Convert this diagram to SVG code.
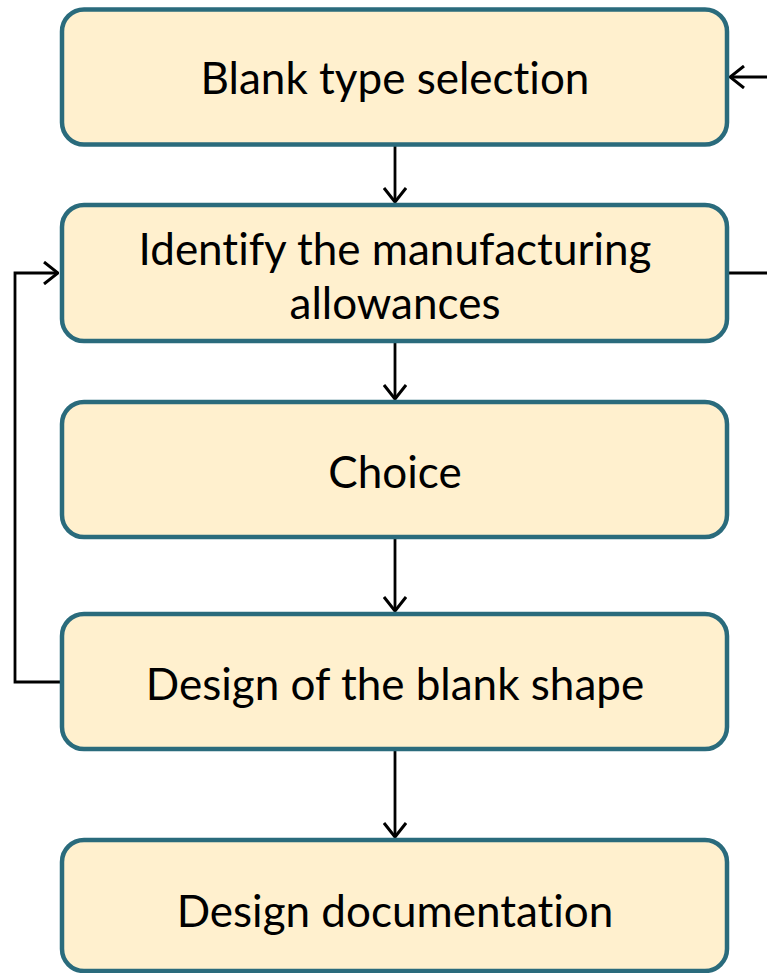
<svg xmlns="http://www.w3.org/2000/svg" width="767" height="973" viewBox="0 0 767 973">
<defs>
<style>
.box{fill:#FFF0CE;stroke:#2A6B7C;stroke-width:4.5}
.lbl{font-family:Lato,"Open Sans",sans-serif;font-size:44px;fill:#000;text-anchor:middle;font-variant-ligatures:none}
.con{fill:none;stroke:#000;stroke-width:2.8}
</style>
<marker id="ah" viewBox="0 0 16 24" refX="15" refY="12" markerWidth="16" markerHeight="24" markerUnits="userSpaceOnUse" orient="auto">
<path d="M1,1 L15,12 L1,23" fill="none" stroke="#000" stroke-width="3"/>
</marker>
</defs>
<g id="connectors">
<line class="con" x1="395" y1="146" x2="395" y2="202" marker-end="url(#ah)"/>
<line class="con" x1="395" y1="343" x2="395" y2="399" marker-end="url(#ah)"/>
<line class="con" x1="395" y1="539" x2="395" y2="611" marker-end="url(#ah)"/>
<line class="con" x1="395" y1="751" x2="395" y2="837" marker-end="url(#ah)"/>
<polyline class="con" points="60,682 15,682 15,273 58,273" marker-end="url(#ah)"/>
<line class="con" x1="767" y1="77" x2="730" y2="77" marker-end="url(#ah)"/>
<line class="con" x1="729" y1="273" x2="767" y2="273"/>
</g>
<g id="n1"><rect class="box" x="62" y="9.5" width="665" height="135" rx="22"/><text class="lbl" x="395" y="94">Blank type selection</text></g>
<g id="n2"><rect class="box" x="62" y="205" width="665" height="136" rx="22"/><text class="lbl" x="395" y="265">Identify the manufacturing</text><text class="lbl" x="395" y="319">allowances</text></g>
<g id="n3"><rect class="box" x="62" y="402" width="665" height="135" rx="22"/><text class="lbl" x="395" y="488">Choice</text></g>
<g id="n4"><rect class="box" x="62" y="614" width="665" height="135" rx="22"/><text class="lbl" x="395" y="700">Design of the blank shape</text></g>
<g id="n5"><rect class="box" x="62" y="840" width="665" height="131" rx="22"/><text class="lbl" x="395" y="927">Design documentation</text></g>
</svg>
